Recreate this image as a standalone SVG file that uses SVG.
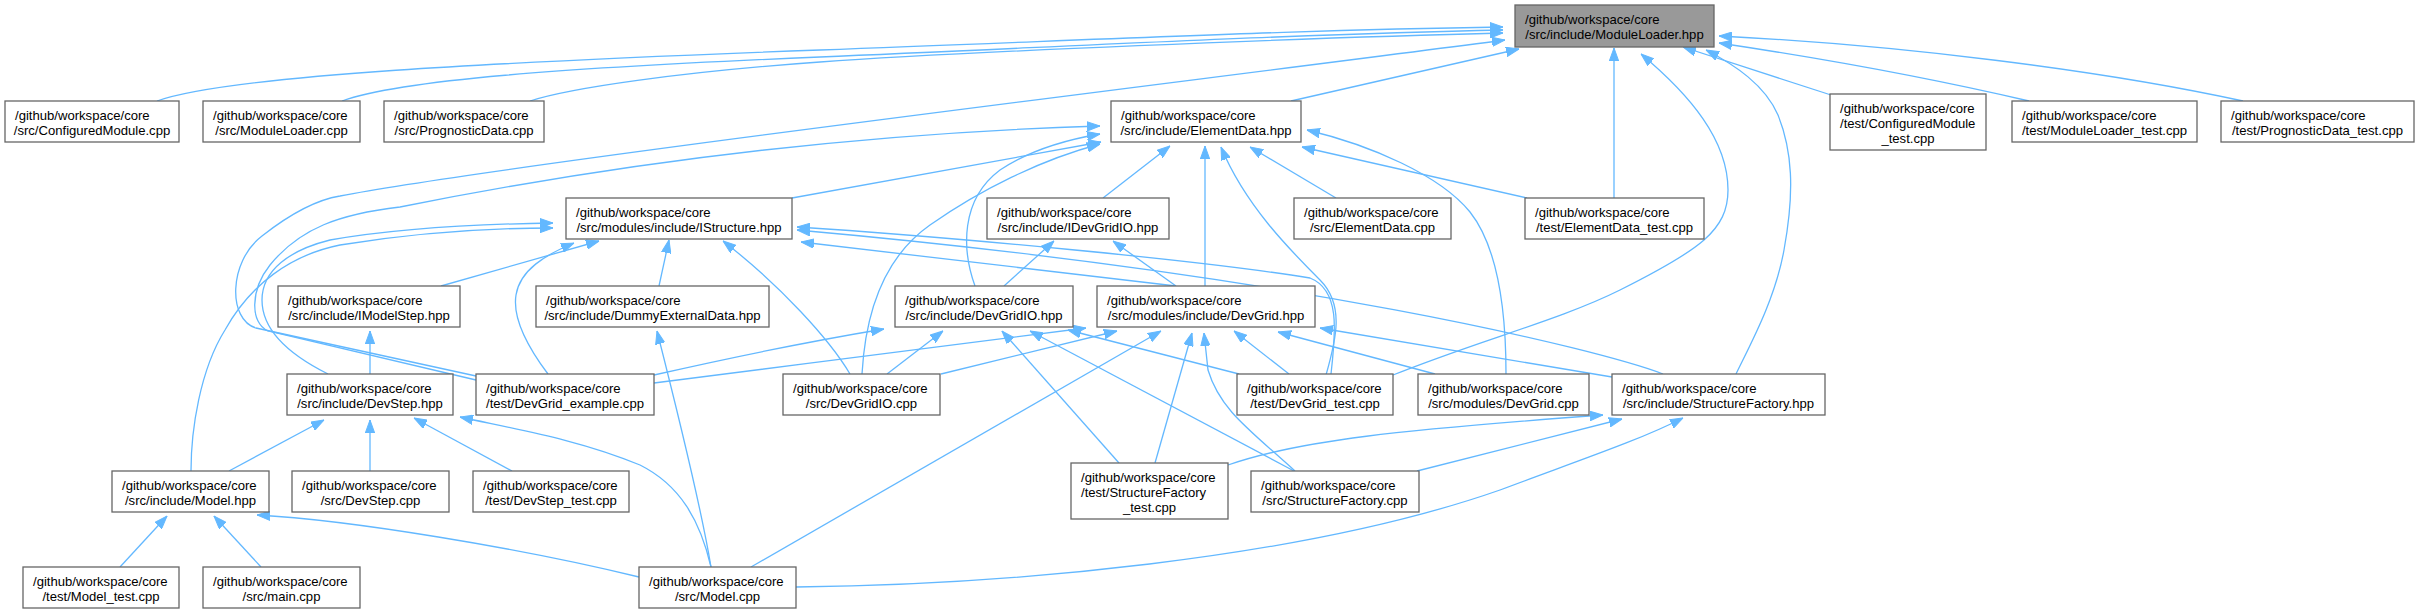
<svg xmlns="http://www.w3.org/2000/svg" width="2420" height="613" viewBox="0 0 2420 613">
<style>
.n rect{fill:#ffffff;stroke:#666666;stroke-width:1.3}
.root rect{fill:#999999}
text{font-family:"Liberation Sans",Arial,Helvetica,sans-serif;font-size:13.1px;fill:#000000}
.m{text-anchor:middle}
.e path{fill:none;stroke:#63b8ff;stroke-width:1.3;marker-end:url(#a)}
</style>
<defs>
<marker id="a" viewBox="0 0 13 10" refX="13" refY="5" markerWidth="13" markerHeight="10" markerUnits="userSpaceOnUse" orient="auto">
<path d="M0,0.3 L13,5 L0,9.7 z" fill="#63b8ff" stroke="#63b8ff" stroke-width="1"/>
</marker>
</defs>
<rect width="2420" height="613" fill="#ffffff"/>
<g id="edges" class="e">
<path d="M157,101 C230,75 500,62 820,50 S1300,30 1503,27"/>
<path d="M342,101 C400,80 560,68 820,57 S1300,34 1503,30"/>
<path d="M530,101 C570,88 680,72 820,62 S1300,38 1503,33"/>
<path d="M476,376 L256,328 C228,320 228,262 262,236 C290,214 315,200 340,196 C500,165 1200,80 1505,40"/>
<path d="M476,380 L268,331 C250,323 250,290 270,265 C300,228 340,214 400,207 C560,175 800,135 1100,126"/>
<path d="M1291,101 L1519,49"/>
<path d="M1614,198 L1614,48"/>
<path d="M1393,375 C1480,340 1560,320 1620,290 C1700,250 1728,230 1728,190 C1728,140 1690,95 1641,54"/>
<path d="M1736,374 C1750,345 1775,300 1784,250 C1795,190 1792,150 1778,115 C1765,85 1735,65 1706,50"/>
<path d="M1831,95 L1683,47"/>
<path d="M2029,101 C1930,78 1820,58 1719,43"/>
<path d="M2243,101 C2100,70 1900,45 1719,36"/>
<path d="M792,198 L1101,142"/>
<path d="M975,286 C962,250 960,200 1000,170 C1030,150 1065,140 1100,134"/>
<path d="M862,374 C865,320 880,260 930,225 C980,190 1040,160 1100,144"/>
<path d="M1103,198 L1170,146"/>
<path d="M1205,286 L1205,146"/>
<path d="M1326,375 C1336,340 1345,305 1320,280 C1290,250 1245,205 1221,147"/>
<path d="M1336,198 L1250,147"/>
<path d="M1506,374 C1506,320 1500,250 1470,212 C1440,175 1370,145 1307,130"/>
<path d="M1527,198 L1302,147"/>
<path d="M191,471 C191,430 200,370 225,330 C250,285 290,255 340,245 C420,232 490,228 553,228"/>
<path d="M328,374 C290,355 262,330 262,300 C262,270 290,250 330,240 C400,228 480,224 553,223"/>
<path d="M548,374 C530,350 512,320 516,295 C520,270 545,255 574,243"/>
<path d="M441,286 L599,241"/>
<path d="M659,286 L669,240"/>
<path d="M850,374 C830,340 780,285 723,241"/>
<path d="M1331,374 C1336,330 1340,290 1310,278 C1200,260 950,237 797,227"/>
<path d="M1663,374 C1600,350 1300,275 797,230"/>
<path d="M1176,286 L801,242"/>
<path d="M1004,286 L1054,241"/>
<path d="M1176,286 L1113,241"/>
<path d="M654,375 C720,360 800,343 884,329"/>
<path d="M654,383 C800,364 1000,340 1086,328"/>
<path d="M887,374 L943,331"/>
<path d="M1119,463 L1002,331"/>
<path d="M1294,471 L1030,331"/>
<path d="M1239,374 L1068,330"/>
<path d="M941,374 L1117,331"/>
<path d="M751,567 L1161,331"/>
<path d="M1155,463 L1192,333"/>
<path d="M1295,471 C1250,430 1220,410 1208,370 L1204,333"/>
<path d="M1289,374 L1234,331"/>
<path d="M1435,374 L1278,332"/>
<path d="M1612,377 L1320,328"/>
<path d="M1228,465 C1300,440 1400,430 1603,415"/>
<path d="M1417,471 L1622,419"/>
<path d="M796,587 C1000,585 1300,560 1500,490 C1580,460 1640,440 1683,418"/>
<path d="M229,471 L324,420"/>
<path d="M370,471 L370,420"/>
<path d="M512,471 L414,418"/>
<path d="M711,567 C700,520 680,485 640,465 C580,440 520,430 460,417"/>
<path d="M711,567 C700,500 672,390 657,331"/>
<path d="M370,374 L370,331"/>
<path d="M120,567 L167,516"/>
<path d="M261,567 L214,516"/>
<path d="M639,577 C520,548 350,520 257,515"/>
</g>
<g id="n_ModuleLoader_hpp" class="n root"><rect x="1515" y="5" width="199" height="42"/><text x="1525" y="24">/github/workspace/core</text><text class="m" x="1614.5" y="39">/src/include/ModuleLoader.hpp</text></g>
<g id="n_ConfiguredModule_cpp" class="n"><rect x="5" y="101" width="174" height="41"/><text x="15" y="120">/github/workspace/core</text><text class="m" x="92" y="135">/src/ConfiguredModule.cpp</text></g>
<g id="n_ModuleLoader_cpp" class="n"><rect x="203" y="101" width="157" height="41"/><text x="213" y="120">/github/workspace/core</text><text class="m" x="281.5" y="135">/src/ModuleLoader.cpp</text></g>
<g id="n_PrognosticData_cpp" class="n"><rect x="384" y="101" width="160" height="41"/><text x="394" y="120">/github/workspace/core</text><text class="m" x="464" y="135">/src/PrognosticData.cpp</text></g>
<g id="n_ElementData_hpp" class="n"><rect x="1111" y="101" width="190" height="41"/><text x="1121" y="120">/github/workspace/core</text><text class="m" x="1206" y="135">/src/include/ElementData.hpp</text></g>
<g id="n_ConfiguredModule_test" class="n"><rect x="1830" y="94" width="156" height="56"/><text x="1840" y="113">/github/workspace/core</text><text x="1840" y="128">/test/ConfiguredModule</text><text class="m" x="1908" y="143">_test.cpp</text></g>
<g id="n_ModuleLoader_test" class="n"><rect x="2012" y="101" width="185" height="41"/><text x="2022" y="120">/github/workspace/core</text><text class="m" x="2104.5" y="135">/test/ModuleLoader_test.cpp</text></g>
<g id="n_PrognosticData_test" class="n"><rect x="2221" y="101" width="193" height="41"/><text x="2231" y="120">/github/workspace/core</text><text class="m" x="2317.5" y="135">/test/PrognosticData_test.cpp</text></g>
<g id="n_IStructure_hpp" class="n"><rect x="566" y="198" width="226" height="41"/><text x="576" y="217">/github/workspace/core</text><text class="m" x="679" y="232">/src/modules/include/IStructure.hpp</text></g>
<g id="n_IDevGridIO_hpp" class="n"><rect x="987" y="198" width="182" height="41"/><text x="997" y="217">/github/workspace/core</text><text class="m" x="1078" y="232">/src/include/IDevGridIO.hpp</text></g>
<g id="n_ElementData_cpp" class="n"><rect x="1294" y="198" width="157" height="41"/><text x="1304" y="217">/github/workspace/core</text><text class="m" x="1372.5" y="232">/src/ElementData.cpp</text></g>
<g id="n_ElementData_test" class="n"><rect x="1525" y="198" width="179" height="41"/><text x="1535" y="217">/github/workspace/core</text><text class="m" x="1614.5" y="232">/test/ElementData_test.cpp</text></g>
<g id="n_IModelStep_hpp" class="n"><rect x="278" y="286" width="182" height="41"/><text x="288" y="305">/github/workspace/core</text><text class="m" x="369" y="320">/src/include/IModelStep.hpp</text></g>
<g id="n_DummyExternalData_hpp" class="n"><rect x="536" y="286" width="233" height="41"/><text x="546" y="305">/github/workspace/core</text><text class="m" x="652.5" y="320">/src/include/DummyExternalData.hpp</text></g>
<g id="n_DevGridIO_hpp" class="n"><rect x="895" y="286" width="178" height="41"/><text x="905" y="305">/github/workspace/core</text><text class="m" x="984" y="320">/src/include/DevGridIO.hpp</text></g>
<g id="n_DevGrid_hpp" class="n"><rect x="1097" y="286" width="218" height="41"/><text x="1107" y="305">/github/workspace/core</text><text class="m" x="1206" y="320">/src/modules/include/DevGrid.hpp</text></g>
<g id="n_DevStep_hpp" class="n"><rect x="287" y="374" width="166" height="41"/><text x="297" y="393">/github/workspace/core</text><text class="m" x="370" y="408">/src/include/DevStep.hpp</text></g>
<g id="n_DevGrid_example" class="n"><rect x="476" y="374" width="178" height="41"/><text x="486" y="393">/github/workspace/core</text><text class="m" x="565" y="408">/test/DevGrid_example.cpp</text></g>
<g id="n_DevGridIO_cpp" class="n"><rect x="783" y="374" width="157" height="41"/><text x="793" y="393">/github/workspace/core</text><text class="m" x="861.5" y="408">/src/DevGridIO.cpp</text></g>
<g id="n_DevGrid_test" class="n"><rect x="1237" y="374" width="156" height="41"/><text x="1247" y="393">/github/workspace/core</text><text class="m" x="1315" y="408">/test/DevGrid_test.cpp</text></g>
<g id="n_modules_DevGrid_cpp" class="n"><rect x="1418" y="374" width="171" height="41"/><text x="1428" y="393">/github/workspace/core</text><text class="m" x="1503.5" y="408">/src/modules/DevGrid.cpp</text></g>
<g id="n_StructureFactory_hpp" class="n"><rect x="1612" y="374" width="213" height="41"/><text x="1622" y="393">/github/workspace/core</text><text class="m" x="1718.5" y="408">/src/include/StructureFactory.hpp</text></g>
<g id="n_Model_hpp" class="n"><rect x="112" y="471" width="157" height="41"/><text x="122" y="490">/github/workspace/core</text><text class="m" x="190.5" y="505">/src/include/Model.hpp</text></g>
<g id="n_DevStep_cpp" class="n"><rect x="292" y="471" width="157" height="41"/><text x="302" y="490">/github/workspace/core</text><text class="m" x="370.5" y="505">/src/DevStep.cpp</text></g>
<g id="n_DevStep_test" class="n"><rect x="473" y="471" width="156" height="41"/><text x="483" y="490">/github/workspace/core</text><text class="m" x="551" y="505">/test/DevStep_test.cpp</text></g>
<g id="n_StructureFactory_test" class="n"><rect x="1071" y="463" width="157" height="56"/><text x="1081" y="482">/github/workspace/core</text><text x="1081" y="497">/test/StructureFactory</text><text class="m" x="1149.5" y="512">_test.cpp</text></g>
<g id="n_StructureFactory_cpp" class="n"><rect x="1251" y="471" width="168" height="41"/><text x="1261" y="490">/github/workspace/core</text><text class="m" x="1335" y="505">/src/StructureFactory.cpp</text></g>
<g id="n_Model_test" class="n"><rect x="23" y="567" width="156" height="41"/><text x="33" y="586">/github/workspace/core</text><text class="m" x="101" y="601">/test/Model_test.cpp</text></g>
<g id="n_main_cpp" class="n"><rect x="203" y="567" width="157" height="41"/><text x="213" y="586">/github/workspace/core</text><text class="m" x="281.5" y="601">/src/main.cpp</text></g>
<g id="n_Model_cpp" class="n"><rect x="639" y="567" width="157" height="41"/><text x="649" y="586">/github/workspace/core</text><text class="m" x="717.5" y="601">/src/Model.cpp</text></g>
</svg>
